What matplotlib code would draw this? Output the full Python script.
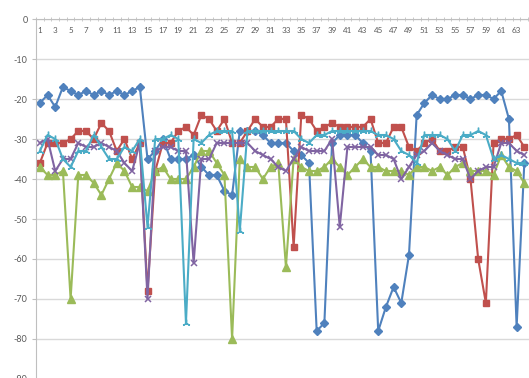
import matplotlib
matplotlib.use("Agg")
import matplotlib.pyplot as plt
import numpy as np

categories = list(range(1, 65))

blue = [-21, -19, -22, -17, -18, -19, -18, -19, -18, -19, -18, -19, -18, -17, -35, -33,
        -30, -35, -35, -35, -34, -37, -39, -39, -43, -44, -28, -28, -28, -29, -31, -31,
        -31, -33, -34, -36, -78, -76, -31, -29, -29, -29, -31, -33, -78, -72, -67, -71,
        -59, -24, -21, -19, -20, -20, -19, -19, -20, -19, -19, -20, -18, -25, -77, -36]

red = [-36, -31, -31, -31, -30, -28, -28, -30, -26, -28, -33, -30, -35, -31, -68, -38,
       -31, -31, -28, -27, -29, -24, -25, -28, -25, -31, -31, -28, -25, -27, -27, -25,
       -25, -57, -24, -25, -28, -27, -26, -27, -27, -27, -27, -25, -31, -31, -27, -27,
       -32, -33, -31, -30, -33, -33, -32, -32, -40, -60, -71, -31, -30, -30, -29, -32]

green = [-37, -39, -39, -38, -70, -39, -39, -41, -44, -40, -36, -38, -42, -42, -43, -38,
         -37, -40, -40, -40, -37, -33, -33, -36, -39, -80, -35, -37, -37, -40, -37, -36,
         -62, -35, -37, -38, -38, -37, -35, -37, -39, -37, -35, -37, -37, -38, -38, -38,
         -39, -37, -37, -38, -37, -39, -37, -36, -38, -38, -38, -39, -34, -37, -38, -41]

purple = [-31, -30, -38, -35, -35, -31, -32, -32, -31, -32, -33, -36, -38, -31, -70, -33,
          -32, -32, -33, -33, -61, -35, -35, -31, -31, -31, -31, -31, -33, -34, -35, -37,
          -38, -35, -32, -33, -33, -33, -30, -52, -32, -32, -32, -32, -34, -34, -35, -40,
          -37, -34, -33, -31, -33, -34, -35, -35, -40, -38, -37, -37, -31, -31, -33, -34]

cyan = [-33, -29, -30, -35, -37, -33, -33, -29, -32, -35, -35, -32, -33, -30, -52, -30,
        -30, -29, -30, -76, -30, -31, -29, -28, -28, -28, -53, -28, -28, -28, -28, -28,
        -28, -28, -30, -31, -29, -29, -28, -28, -28, -28, -28, -28, -29, -29, -30, -33,
        -34, -36, -29, -29, -29, -30, -33, -29, -29, -28, -29, -35, -34, -35, -36, -36]

yticks = [0, -10, -20, -30, -40, -50, -60, -70, -80, -90]
ytick_labels = ["0", "-10", "-20", "-30", "-40", "-50", "-60", "-70", "-80", "-90"]
xtick_pos = list(range(1, 65, 2))
xtick_labels = [str(v) for v in xtick_pos]

plt.rcParams['font.family'] = ['Lato', 'DejaVu Sans']

W, H = 529, 378
fig = plt.figure(figsize=(W / 100, H / 100), dpi=100)
fig.patch.set_facecolor('white')
ax = fig.add_axes([36 / W, -1 / H, 1 - 36 / W, (H - 19 + 1) / H])

series = [
    (blue, '#4F81BD', dict(marker='D', ms=4.2)),
    (red, '#C0504D', dict(marker='s', ms=5)),
    (green, '#9BBB59', dict(marker='^', ms=5.5)),
    (purple, '#8064A2', dict(marker='x', ms=4.5, mew=1.1)),
    (cyan, '#4BACC6', dict(marker=(3, 2, 0), ms=5.5, mew=1.0)),
]
for vals, col, mk in series:
    ax.plot(categories, vals, color=col, lw=1.5, mfc=col, mec=col, **mk)

ax.set_xlim(0.5, 0.5 + (W - 36) / 7.69)
ax.set_ylim(-90, 0)

ax.set_yticks(yticks)
ax.set_yticklabels(ytick_labels)
ax.tick_params(axis='y', length=3, color='#bfbfbf', labelsize=6.5,
               labelcolor='#595959', pad=3)

ax.xaxis.tick_top()
ax.set_xticks(xtick_pos)
ax.set_xticklabels(xtick_labels)
ax.set_xticks(np.arange(0.5, 65, 1), minor=True)
ax.tick_params(axis='x', which='major', length=0, pad=-10.5, labelsize=5.8,
               labelcolor='#595959')
ax.tick_params(axis='x', which='minor', length=2.5, direction='inout',
               color='#bfbfbf')

ax.yaxis.grid(True, color='#d9d9d9', lw=1)
ax.set_axisbelow(True)
for s in ['right', 'bottom']:
    ax.spines[s].set_visible(False)
ax.spines['left'].set_color('#bfbfbf')
ax.spines['top'].set_color('#bfbfbf')

fig.savefig('out.png', dpi=100)
